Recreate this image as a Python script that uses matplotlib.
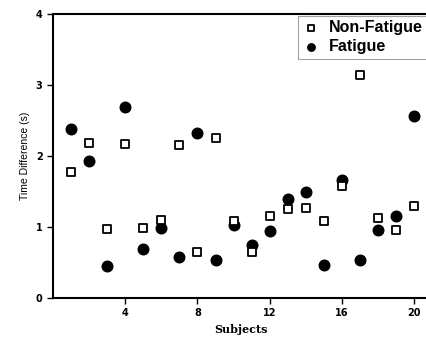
import numpy as np
import matplotlib.pyplot as plt

subjects = np.arange(1, 21)
non_fatigue = [1.78, 2.18, 0.97, 2.17, 0.98, 1.10, 2.15, 0.65, 2.25, 1.08,
               0.65, 1.15, 1.25, 1.27, 1.08, 1.58, 3.14, 1.12, 0.96, 1.30]
fatigue = [2.38, 1.93, 0.45, 2.69, 0.69, 0.98, 0.57, 2.32, 0.54, 1.02,
           0.74, 0.94, 1.39, 1.49, 0.47, 1.66, 0.53, 0.96, 1.15, 2.56]

fig = plt.figure(figsize=(4.27, 3.42), dpi=100)
ax = fig.add_axes([0.124, 0.129, 0.88, 0.83])

ax.scatter(subjects, non_fatigue, marker='s', s=36, facecolors='white',
           edgecolors='black', linewidths=1.3, label='Non-Fatigue', zorder=3)
ax.scatter(subjects, fatigue, marker='o', s=58, color='black',
           label='Fatigue', zorder=2)

ax.set_xlim(0, 20.8)
ax.set_ylim(0, 4)
ax.set_xticks([4, 8, 12, 16, 20])
ax.set_yticks([0, 1, 2, 3, 4])
ax.tick_params(direction='out', length=4, width=1, labelsize=7)
for lab in ax.get_xticklabels() + ax.get_yticklabels():
    lab.set_fontweight('bold')

for s in ax.spines.values():
    s.set_linewidth(1.5)

ax.set_ylabel('Time Difference (s)', fontsize=7.5, family='Liberation Sans')
ax.set_xlabel('Subjects', fontsize=8, fontweight='bold', family='DejaVu Serif')

leg = ax.legend(loc='upper right',
                prop={'weight': 'bold', 'size': 11.5, 'family': 'Liberation Sans'},
                frameon=True, fancybox=False, edgecolor='#888888',
                handletextpad=0.6, borderpad=0.3, labelspacing=0.25,
                handlelength=1.0, borderaxespad=0.1, markerscale=0.7)
leg.get_frame().set_linewidth(0.8)

fig.savefig('out.png', dpi=100)
